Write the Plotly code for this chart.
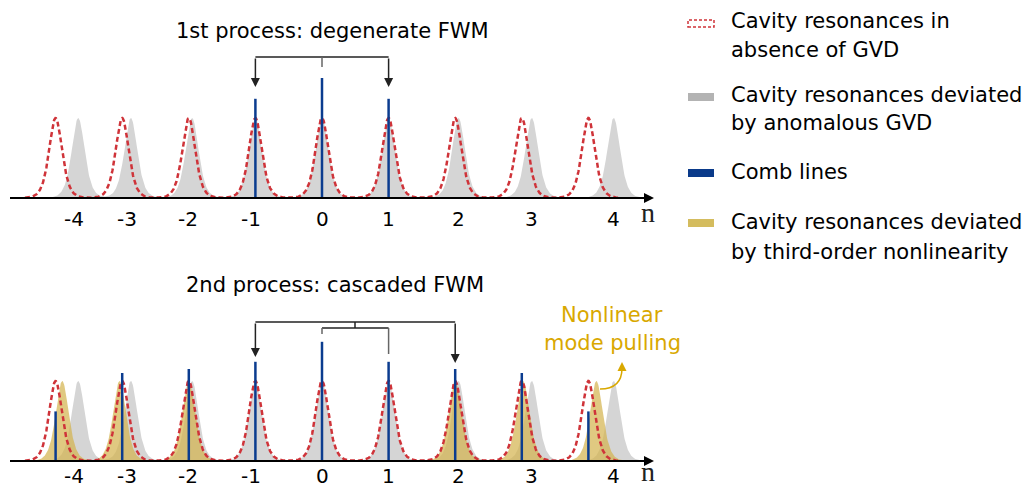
import numpy as np
import plotly.graph_objects as go

# ---------------- data ----------------
modes = [-4, -3, -2, -1, 0, 1, 2, 3, 4]
tick_labels = ["-4", "-3", "-2", "-1", "0", "1", "2", "3", "4"]
gvd_shift = [0.34, 0.13, 0.05, 0.0, 0.0, 0.0, 0.05, 0.15, 0.38]      # anomalous GVD deviation
nl_shift = [0.10, -0.04, 0.0, None, None, None, 0.0, 0.02, 0.12]     # after nonlinear pulling
comb_top = [0, 0, 0, 1.24, 1.50, 1.24, 0, 0, 0]
comb_bottom = [0.62, 1.10, 1.15, 1.24, 1.49, 1.24, 1.15, 1.10, 0.62]
res_height = 1.0
res_width = 0.13

# ---------------- geometry helpers ----------------
W, H = 1031, 489
X0, SCALE = 322.0, 66.6          # pixel of n=0, pixels per mode
BASE_TOP, BASE_BOT, YS = 198.0, 461.0, 80.0


def X(px):
    return (px - X0) / SCALE


def PX(px):
    return px / W


def PY(py):
    return 1 - py / H


def Yt(py):
    return (BASE_TOP - py) / YS


def Yb(py):
    return (BASE_BOT - py) / YS


def profile(x, centers):
    y = np.zeros_like(x)
    for c in centers:
        y += res_height / np.cosh((x - c) / res_width) ** 2
    return y


RED = "#CF3339"
GRAY = "#D5D5D5"
YEL = "rgba(212,180,80,0.72)"
BLUE = "#0B3C8F"
GOLD = "#D9A800"
FONT = "DejaVu Sans"

fig = go.Figure()

x_red = np.linspace(X(25), X(618), 1500)
x_gray = np.linspace(X(15), X(655), 1500)
red_c = list(modes)
gray_c = [n + s for n, s in zip(modes, gvd_shift)]
yel_c = [n + s for n, s in zip(modes, nl_shift) if s is not None]

for panel, ya in (("top", "y"), ("bot", "y2")):
    fig.add_trace(go.Scatter(x=x_gray, y=profile(x_gray, gray_c), yaxis=ya, mode="lines",
                             line=dict(width=0), fill="tozeroy", fillcolor=GRAY,
                             hoverinfo="skip", showlegend=False))
    if panel == "bot":
        fig.add_trace(go.Scatter(x=x_gray, y=profile(x_gray, yel_c), yaxis=ya, mode="lines",
                                 line=dict(width=0), fill="tozeroy", fillcolor=YEL,
                                 hoverinfo="skip", showlegend=False))
    fig.add_trace(go.Scatter(x=x_red, y=profile(x_red, red_c), yaxis=ya, mode="lines",
                             line=dict(color=RED, width=2.5, dash="5px,3px"),
                             hoverinfo="skip", showlegend=False))
    heights = comb_top if panel == "top" else comb_bottom
    cx, cy = [], []
    for n, h in zip(modes, heights):
        if h > 0:
            cx += [n, n, None]
            cy += [0, h, None]
    fig.add_trace(go.Scatter(x=cx, y=cy, yaxis=ya, mode="lines",
                             line=dict(color=BLUE, width=2.5),
                             hoverinfo="skip", showlegend=False))

shapes = []
annotations = []

# axes baselines with arrow
for ya in ("y", "y2"):
    shapes.append(dict(type="line", xref="x", yref=ya, x0=X(10), x1=X(646), y0=0, y1=0,
                       line=dict(color="black", width=2)))
    annotations.append(dict(xref="x", yref=ya, x=X(654), y=0, ax=-12, ay=0, text="",
                            showarrow=True, arrowhead=2, arrowsize=1, arrowwidth=2,
                            arrowcolor="black"))

# tick labels and n labels
for yc, ny in ((219, 213), (476, 471)):
    for n, s, lab in zip(modes, gvd_shift, tick_labels):
        annotations.append(dict(xref="x", yref="paper", x=n + s, y=PY(yc), text=lab,
                                showarrow=False, xanchor="center", yanchor="middle",
                                xshift=-4 if n < 0 else 0,
                                font=dict(family=FONT, size=20, color="black")))
    annotations.append(dict(xref="paper", yref="paper", x=PX(648), y=PY(ny), text="n",
                            showarrow=False, xanchor="center", yanchor="middle",
                            font=dict(family="Liberation Serif", size=28, color="#222")))

# titles
annotations.append(dict(xref="paper", yref="paper", x=PX(332), y=PY(31),
                        text="1st process: degenerate FWM", showarrow=False,
                        xanchor="center", yanchor="middle",
                        font=dict(family=FONT, size=21, color="black")))
annotations.append(dict(xref="paper", yref="paper", x=PX(335), y=PY(285),
                        text="2nd process: cascaded FWM", showarrow=False,
                        xanchor="center", yanchor="middle",
                        font=dict(family=FONT, size=21, color="black")))

BK = "#222222"
ST = "#666666"


def seg(ya, x0, y0, x1, y1, color=BK):
    shapes.append(dict(type="line", xref="x", yref=ya, x0=x0, y0=y0, x1=x1, y1=y1,
                       line=dict(color=color, width=1.5)))


def arrow(ya, x, y_from, y_to):
    annotations.append(dict(xref="x", yref=ya, axref="x", ayref=ya, x=x, y=y_to, ax=x, ay=y_from,
                            text="", showarrow=True, arrowhead=2, arrowsize=1.2,
                            arrowwidth=1.5, arrowcolor=BK))


# top bracket (degenerate FWM)
seg("y", -1, Yt(57), 1, Yt(57))
seg("y", 0, Yt(57), 0, Yt(67), ST)
arrow("y", -1, Yt(57), Yt(87))
arrow("y", 1, Yt(57), Yt(87))

# bottom brackets (cascaded FWM)
seg("y2", -1, Yb(322), 2, Yb(322))
seg("y2", X(355), Yb(322), X(355), Yb(328))
seg("y2", 0, Yb(328), 1, Yb(328), BK)
seg("y2", 0, Yb(328), 0, Yb(334), ST)
seg("y2", 1, Yb(328), 1, Yb(354), ST)
arrow("y2", -1, Yb(322), Yb(357))
arrow("y2", 2, Yb(322), Yb(363))

# nonlinear mode pulling label + curved arrow
annotations.append(dict(xref="paper", yref="paper", x=PX(612), y=PY(315), text="Nonlinear",
                        showarrow=False, xanchor="center", yanchor="middle",
                        font=dict(family=FONT, size=21, color=GOLD)))
annotations.append(dict(xref="paper", yref="paper", x=PX(612), y=PY(343), text="mode pulling",
                        showarrow=False, xanchor="center", yanchor="middle",
                        font=dict(family=FONT, size=21, color=GOLD)))
shapes.append(dict(type="path", xref="x", yref="y2",
                   path=f"M {X(600)} {Yb(389)} Q {X(622)} {Yb(389)} {X(622)} {Yb(368)}",
                   line=dict(color=GOLD, width=1.5)))
annotations.append(dict(xref="x", yref="y2", x=X(622), y=Yb(362), ax=0, ay=7, text="",
                        showarrow=True, arrowhead=2, arrowsize=1.2, arrowwidth=1.5,
                        arrowcolor=GOLD))

# legend
shapes.append(dict(type="rect", xref="paper", yref="paper", x0=PX(688), x1=PX(714),
                   y0=PY(27), y1=PY(20), line=dict(color=RED, width=1.5, dash="3px,2px"),
                   fillcolor="rgba(0,0,0,0)"))
for (y0, y1, col) in ((93, 101, "#B3B3B3"), (169, 177, "#0A3A8A"), (219, 227, "#D4BC5E")):
    shapes.append(dict(type="rect", xref="paper", yref="paper", x0=PX(688), x1=PX(714),
                       y0=PY(y1), y1=PY(y0), line=dict(width=0), fillcolor=col))

legend_lines = [
    ("Cavity resonances in", 21),
    ("absence of GVD", 50),
    ("Cavity resonances deviated", 95),
    ("by anomalous GVD", 123),
    ("Comb lines", 172),
    ("Cavity resonances deviated", 222),
    ("by third-order nonlinearity", 252),
]
for txt, yc in legend_lines:
    annotations.append(dict(xref="paper", yref="paper", x=PX(729), y=PY(yc), text=txt,
                            showarrow=False, xanchor="left", yanchor="middle",
                            font=dict(family=FONT, size=21, color="black")))

fig.update_layout(
    width=W, height=H,
    margin=dict(l=0, r=0, t=0, b=0),
    paper_bgcolor="white", plot_bgcolor="white",
    showlegend=False,
    xaxis=dict(range=[X(0), X(W)], visible=False, fixedrange=True),
    yaxis=dict(range=[Yt(H), Yt(0)], visible=False, fixedrange=True),
    yaxis2=dict(range=[Yb(H), Yb(0)], visible=False, overlaying="y", fixedrange=True),
    shapes=shapes,
    annotations=annotations,
)

fig.write_html("out.html")
